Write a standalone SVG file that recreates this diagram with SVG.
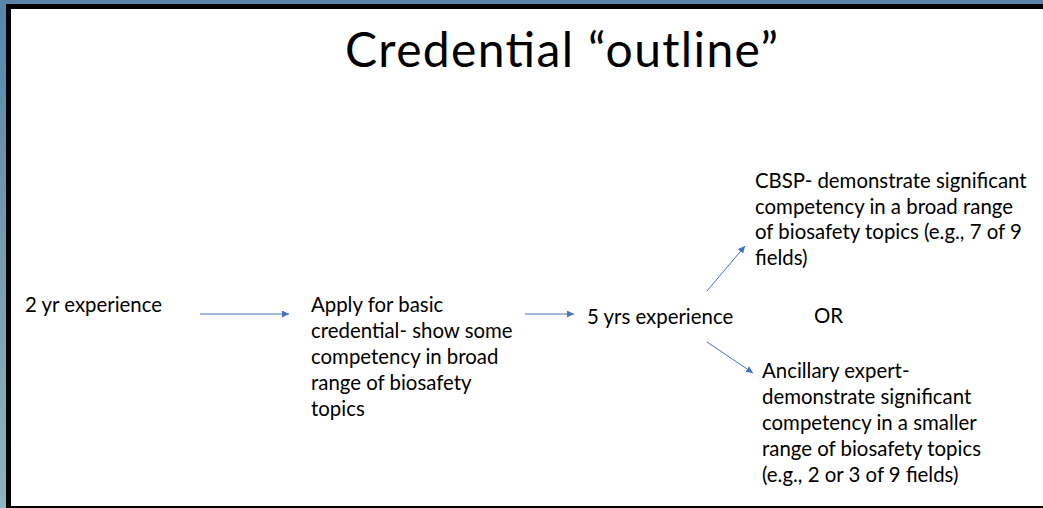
<svg xmlns="http://www.w3.org/2000/svg" width="1043" height="508" viewBox="0 0 1043 508">
<defs>
<linearGradient id="edge" x1="0" y1="0" x2="0" y2="1">
<stop offset="0" stop-color="#5a83a8"/>
<stop offset="1" stop-color="#8fb6bd"/>
</linearGradient>
<marker id="ah" viewBox="0 0 10 10" refX="10" refY="5" markerWidth="7" markerHeight="7" markerUnits="userSpaceOnUse" orient="auto">
<path d="M0,0 L10,5 L0,10 z" fill="#4472c4"/>
</marker>
<style>
text{font-family:"Lato","Liberation Sans",sans-serif;fill:#000;}
.t{font-size:20.4px;}
.title{font-size:48px;}
.c{stroke:#4472c4;stroke-width:1;fill:none;marker-end:url(#ah);}
</style>
</defs>
<rect x="0" y="0" width="1043" height="508" fill="#fff"/>
<rect x="0" y="0" width="1043" height="4" fill="#5a83a8"/>
<rect x="0" y="0" width="6" height="508" fill="url(#edge)"/>
<rect x="6" y="4" width="1037" height="5" fill="#000"/>
<rect x="6" y="4" width="5" height="504" fill="#000"/>
<rect x="6" y="506" width="1037" height="2" fill="#000"/>
<g id="title"><text class="title" x="345" y="67" textLength="433" lengthAdjust="spacing">Credential “outline”</text></g>
<g id="connectors">
<line class="c" x1="200" y1="314" x2="289" y2="314"/>
<line class="c" x1="525" y1="314" x2="574" y2="314"/>
<line class="c" x1="707" y1="291" x2="745" y2="246"/>
<line class="c" x1="707" y1="342" x2="753" y2="373"/>
</g>
<g id="n1"><text class="t" x="25" y="312">2 yr experience</text></g>
<g id="n2"><text class="t" x="311" y="312">Apply for basic</text><text class="t" x="311" y="338">credential- show some</text><text class="t" x="311" y="364">competency in broad</text><text class="t" x="311" y="390">range of biosafety</text><text class="t" x="311" y="416">topics</text></g>
<g id="n3"><text class="t" x="587" y="324">5 yrs experience</text></g>
<g id="or"><text class="t" x="814" y="323">OR</text></g>
<g id="n4"><text class="t" x="755" y="188">CBSP- demonstrate significant</text><text class="t" x="755" y="214">competency in a broad range</text><text class="t" x="755" y="239">of biosafety topics (e.g., 7 of 9</text><text class="t" x="755" y="265">fields)</text></g>
<g id="n5"><text class="t" x="762" y="378">Ancillary expert-</text><text class="t" x="762" y="404">demonstrate significant</text><text class="t" x="762" y="430">competency in a smaller</text><text class="t" x="762" y="456">range of biosafety topics</text><text class="t" x="762" y="482">(e.g., 2 or 3 of 9 fields)</text></g>
</svg>
